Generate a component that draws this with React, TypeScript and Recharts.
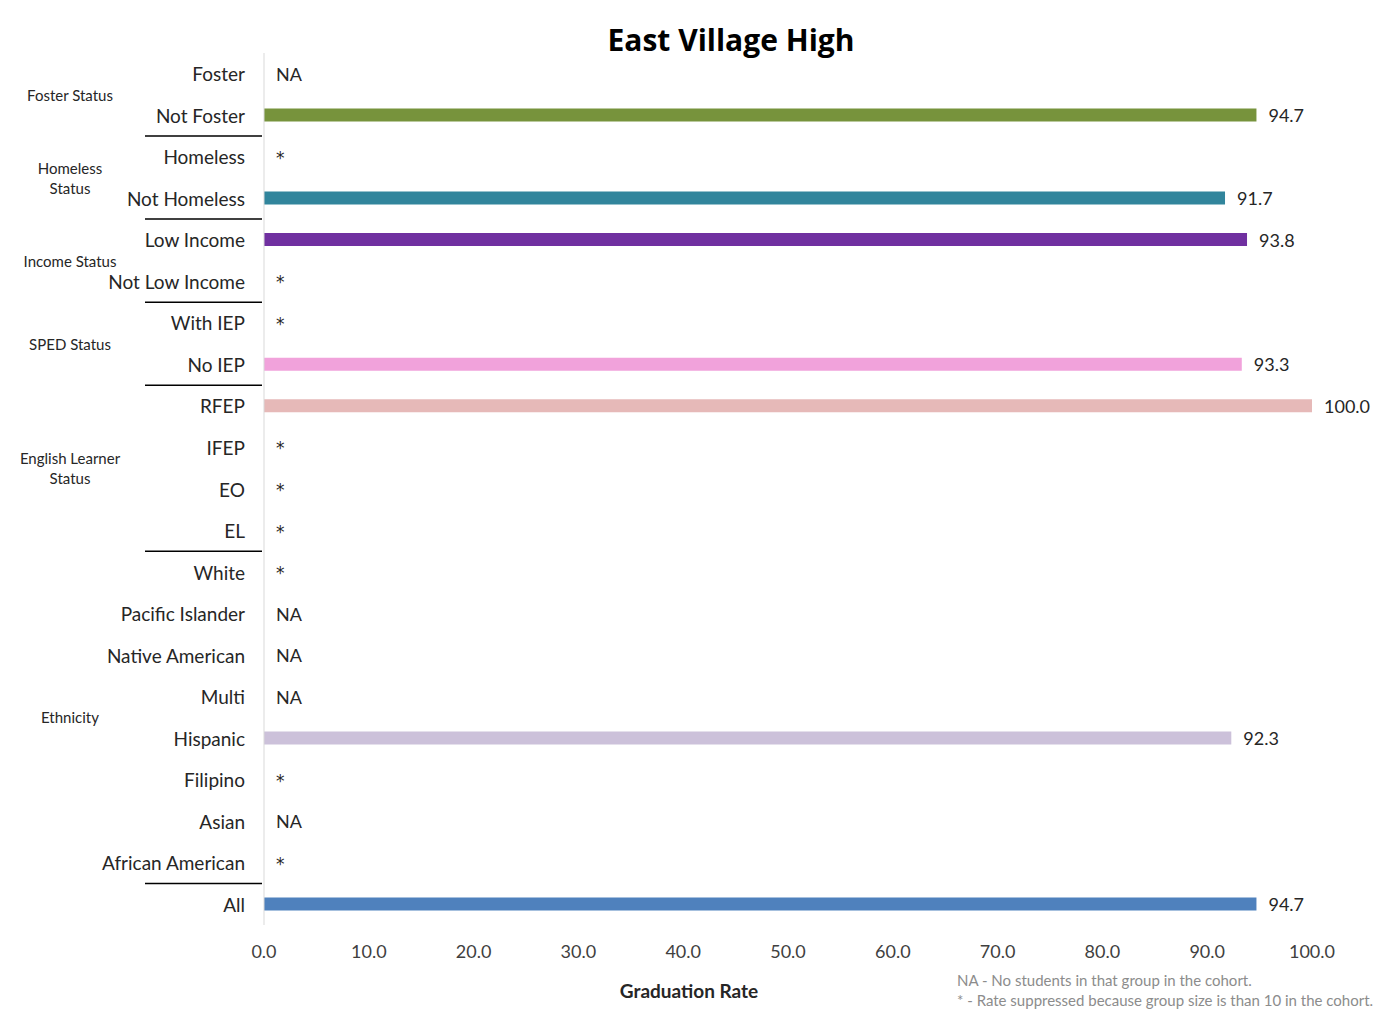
import { Bar, BarChart, Cell, LabelList, XAxis, YAxis } from "recharts";

const categories = [
  "Foster", "Not Foster", "Homeless", "Not Homeless", "Low Income", "Not Low Income",
  "With IEP", "No IEP", "RFEP", "IFEP", "EO", "EL", "White", "Pacific Islander",
  "Native American", "Multi", "Hispanic", "Filipino", "Asian", "African American", "All",
];
const rates: (number | null)[] = [
  null, 94.7, null, 91.7, 93.8, null, null, 93.3, 100.0, null, null, null, null, null,
  null, null, 92.3, null, null, null, 94.7,
];
const notes = [
  "NA", "", "*", "", "", "*", "*", "", "", "*", "*", "*", "*", "NA",
  "NA", "NA", "", "*", "NA", "*", "",
];
const barColors = [
  "#77933C", "#77933C", "#31859C", "#31859C", "#7030A0", "#7030A0", "#F1A2DB", "#F1A2DB",
  "#E6B9B8", "#E6B9B8", "#E6B9B8", "#E6B9B8", "#CCC1DA", "#CCC1DA", "#CCC1DA", "#CCC1DA",
  "#CCC1DA", "#CCC1DA", "#CCC1DA", "#CCC1DA", "#4F81BD",
];
// group title lines, first category index, category count
const groups = [
  { lines: ["Foster Status"], start: 0, count: 2 },
  { lines: ["Homeless", "Status"], start: 2, count: 2 },
  { lines: ["Income Status"], start: 4, count: 2 },
  { lines: ["SPED Status"], start: 6, count: 2 },
  { lines: ["English Learner", "Status"], start: 8, count: 4 },
  { lines: ["Ethnicity"], start: 12, count: 8 },
];
const xTicks = [0, 10, 20, 30, 40, 50, 60, 70, 80, 90, 100];

const data = categories.map((name, i) => ({ name, rate: rates[i], note: notes[i] }));

const FONT = "Lato, 'Open Sans', sans-serif";
const BAND = 872 / categories.length;

function CategoryTick(props: any) {
  const { y, index } = props;
  const group = groups.find((g) => g.start === index);
  const lastOfGroup = groups.find((g) => g.start + g.count - 1 === index);
  const note = notes[index];
  return (
    <g>
      <text x={245} y={y} textAnchor="end" dominantBaseline="central" fontSize={19} fill="#262626" fontFamily={FONT}>
        {categories[index]}
      </text>
      {note && (
        <text
          x={276}
          y={note === "*" ? y + 1 : y}
          dominantBaseline="central"
          fontSize={note === "*" ? 17 : 18}
          fill="#262626"
          fontFamily={note === "*" ? "'DejaVu Sans', sans-serif" : FONT}
        >
          {note}
        </text>
      )}
      {group && (
        <text
          x={70}
          y={y + ((group.count - 1) * BAND) / 2 - ((group.lines.length - 1) * 20) / 2}
          textAnchor="middle"
          dominantBaseline="central"
          fontSize={15}
          fill="#262626"
          fontFamily={FONT}
        >
          {group.lines.map((l, k) => (
            <tspan key={k} x={70} dy={k === 0 ? 0 : 20}>
              {l}
            </tspan>
          ))}
        </text>
      )}
      {lastOfGroup && (
        <line x1={145} x2={262} y1={y + BAND / 2} y2={y + BAND / 2} stroke="#000" strokeWidth={1.5} />
      )}
    </g>
  );
}

function ValueLabel(props: any) {
  const { x, y, width, height, value } = props;
  if (value == null) return null;
  return (
    <text x={x + width + 12} y={y + height / 2} dominantBaseline="central" fontSize={18} fill="#262626" fontFamily={FONT}>
      {Number(value).toFixed(1)}
    </text>
  );
}

export default function App() {
  return (
    <div style={{ position: "relative", width: 1388, height: 1013, background: "#fff", fontFamily: FONT }}>
      <style>{"body{margin:0}"}</style>
      <BarChart
        width={1388}
        height={1013}
        data={data}
        layout="vertical"
        margin={{ top: 53, right: 76, bottom: 58, left: 0 }}
        barSize={13}
      >
        <XAxis
          type="number"
          domain={[0, 100]}
          ticks={xTicks}
          axisLine={false}
          tickLine={false}
          tickSize={0}
          tickMargin={20}
          tickFormatter={(v) => v.toFixed(1)}
          tick={{ fontSize: 18, fill: "#404040", fontFamily: FONT }}
        />
        <YAxis
          type="category"
          dataKey="name"
          width={264}
          interval={0}
          tickLine={false}
          axisLine={{ stroke: "#D9D9D9" }}
          tick={<CategoryTick />}
        />
        <Bar dataKey="rate" isAnimationActive={false}>
          {data.map((d, i) => (
            <Cell key={d.name} fill={barColors[i]} />
          ))}
          <LabelList dataKey="rate" content={<ValueLabel />} />
        </Bar>
      </BarChart>
      <div style={{ position: "absolute", left: 0, width: 1462, top: 19, textAlign: "center", fontSize: 30, fontWeight: 700, color: "#000", fontFamily: "'Open Sans', sans-serif" }}>
        East Village High
      </div>
      <div style={{ position: "absolute", left: 0, width: 1378, top: 979, textAlign: "center", fontSize: 19, fontWeight: 700, color: "#262626" }}>
        Graduation Rate
      </div>
      <div style={{ position: "absolute", left: 957, top: 970, fontSize: 15, color: "#8C8C8C", lineHeight: "20px" }}>
        <div>NA - No students in that group in the cohort.</div>
        <div>* - Rate suppressed because group size is than 10 in the cohort.</div>
      </div>
    </div>
  );
}
